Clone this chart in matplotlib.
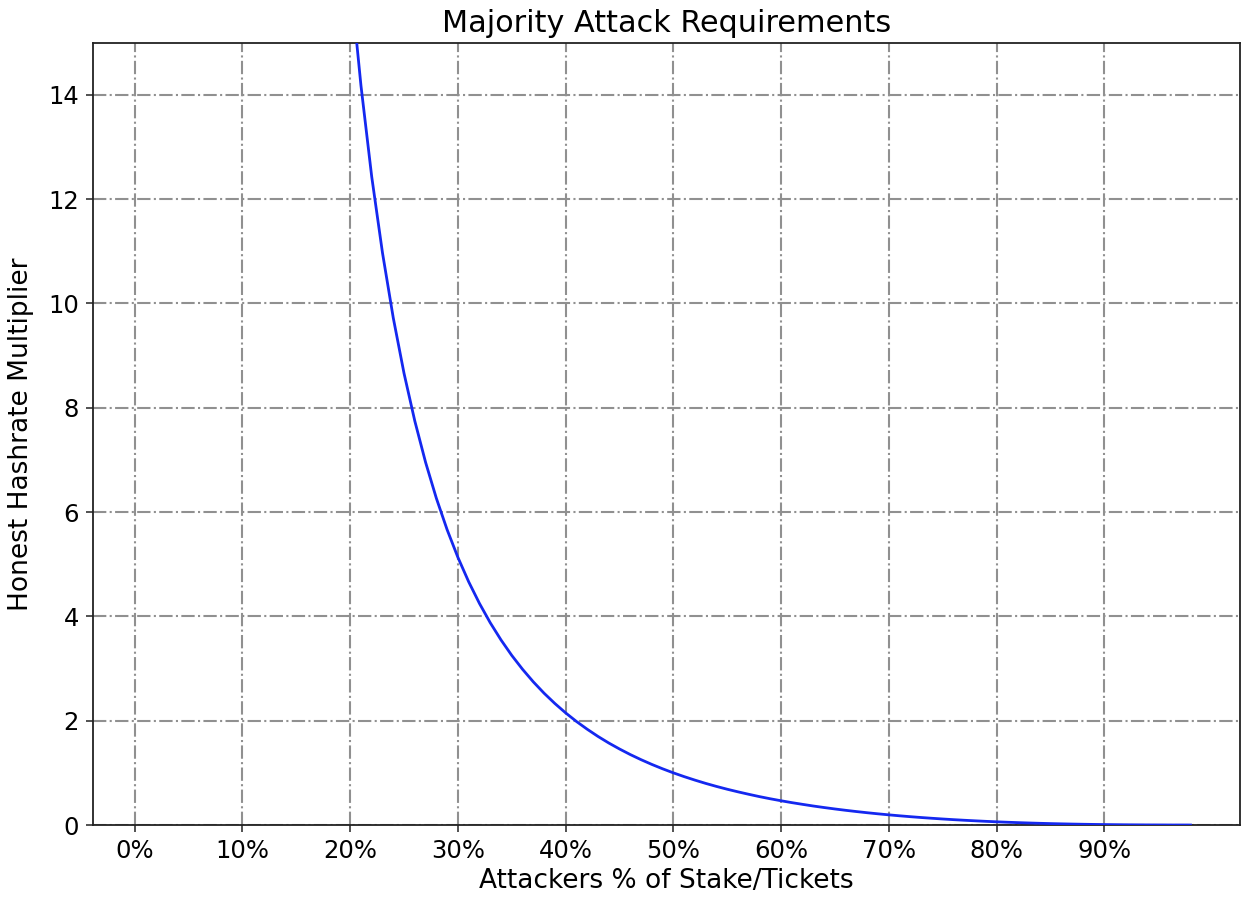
import matplotlib
matplotlib.use("Agg")
import matplotlib.pyplot as plt

# Attacker stake share (%) and honest hashrate multiplier
stake_pct = [19, 20, 21, 22, 23, 24, 25, 26, 27, 28, 29, 30, 31, 32, 33, 34, 35,
             36, 37, 38, 39, 40, 41, 42, 43, 44, 45, 46, 47, 48, 49, 50, 51, 52,
             53, 54, 55, 56, 57, 58, 59, 60, 61, 62, 63, 64, 65, 66, 67, 68, 69,
             70, 71, 72, 73, 74, 75, 76, 77, 78, 79, 80, 81, 82, 83, 84, 85, 86,
             87, 88, 89, 90, 91, 92, 93, 94, 95, 96, 97, 98]
multiplier = [18.79, 16.27, 14.18, 12.43, 10.97, 9.724, 8.660, 7.746, 6.954, 6.265,
              5.662, 5.132, 4.664, 4.249, 3.879, 3.549, 3.252, 2.986, 2.745, 2.527,
              2.330, 2.150, 1.986, 1.837, 1.699, 1.573, 1.458, 1.351, 1.253, 1.162,
              1.078, 1.000, 0.928, 0.861, 0.798, 0.740, 0.686, 0.636, 0.589, 0.544,
              0.503, 0.465, 0.429, 0.396, 0.364, 0.335, 0.3075, 0.2818, 0.2578,
              0.2353, 0.2144, 0.1949, 0.1766, 0.1596, 0.1438, 0.1291, 0.1155,
              0.1028, 0.0912, 0.0805, 0.0705, 0.0615, 0.0532, 0.0457, 0.0389,
              0.0328, 0.0273, 0.0225, 0.0182, 0.0145, 0.0113, 0.00863, 0.00638,
              0.00455, 0.00309, 0.00197, 0.00116, 0.00060, 0.00026, 0.00008]
xtick_pos = [0, 10, 20, 30, 40, 50, 60, 70, 80, 90]
xtick_labels = ["0%", "10%", "20%", "30%", "40%", "50%", "60%", "70%", "80%", "90%"]
ytick_pos = [0, 2, 4, 6, 8, 10, 12, 14]

fig = plt.figure(figsize=(12.41, 8.99), dpi=100)
ax = fig.add_axes([0.0747, 0.0823, 0.9245, 0.8702])

ax.plot(stake_pct, multiplier, color="#1428f0", linewidth=2.0, zorder=3)

ax.set_xlim(-3.9, 102.6)
ax.set_ylim(0, 15)
ax.set_xticks(xtick_pos)
ax.set_xticklabels(xtick_labels)
ax.set_yticks(ytick_pos)
ax.tick_params(labelsize=17.5, length=5, width=1.2, color="#333333", pad=5)

ax.grid(True, color="#909090", linestyle="-.", linewidth=1.5)
for s in ax.spines.values():
    s.set_color("#222222")
    s.set_linewidth(1.3)

ax.set_title("Majority Attack Requirements", fontsize=21.8, pad=8)
ax.set_xlabel("Attackers % of Stake/Tickets", fontsize=19, labelpad=4)
ax.set_ylabel("Honest Hashrate Multiplier", fontsize=19, labelpad=10)

fig.savefig("out.png", dpi=100)
